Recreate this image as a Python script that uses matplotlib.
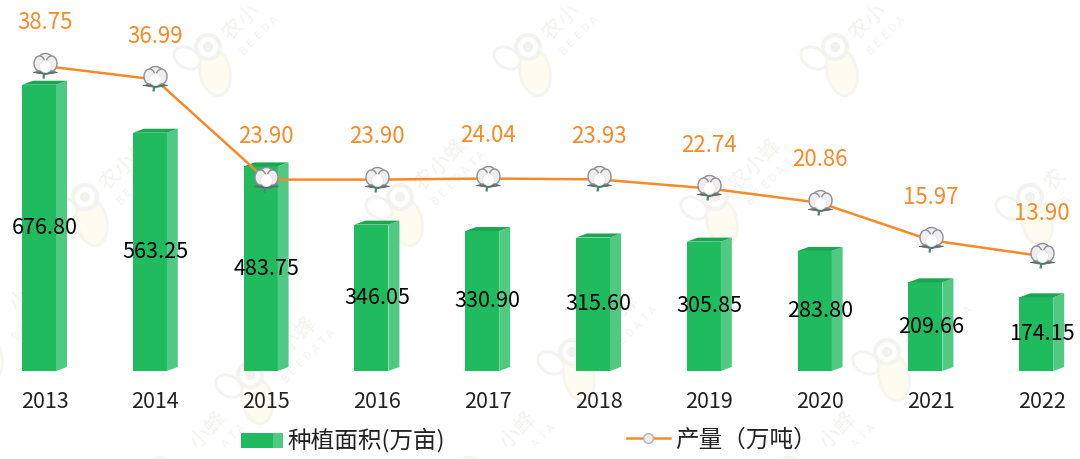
import matplotlib
matplotlib.use('Agg')
import matplotlib.pyplot as plt
import numpy as np
from matplotlib.path import Path
from matplotlib.patches import Polygon, Ellipse, Rectangle
from matplotlib.lines import Line2D
from matplotlib.transforms import IdentityTransform

plt.rcParams['font.family'] = ['Noto Sans CJK SC', 'DejaVu Sans']

years = ['2013', '2014', '2015', '2016', '2017', '2018', '2019', '2020', '2021', '2022']
area = [676.80, 563.25, 483.75, 346.05, 330.90, 315.60, 305.85, 283.80, 209.66, 174.15]
output = [38.75, 36.99, 23.90, 23.90, 24.04, 23.93, 22.74, 20.86, 15.97, 13.90]

# watermark bee eyes, in pixels of the image
wm_eyes = [(208, 47), (528, 47), (835, 47), (85, 197), (400, 197), (715, 197), (1030, 197),
           (250, 375), (572, 352), (887, 352), (-20, 332), (160, 470), (470, 470), (790, 470)]

GREEN = '#20ba5f'
SIDE = '#50c983'
TOP = '#1ba652'
ORANGE = '#f78a28'
WM = '#f3f3ef'

W, H = 1080, 459
fig = plt.figure(figsize=(W / 100, H / 100), dpi=100)
ax = fig.add_axes([0, 88 / H, 1, 371 / H])
ax.set_xlim(-44.5 / 110.8, (W - 44.5) / 110.8)
ax.set_ylim(0, 371 / 0.423)
ax2 = ax.twinx()
ax2.set_ylim(38.75 - 305 / 7.65, 38.75 + 66 / 7.65)
ax2.set_zorder(ax.get_zorder() + 1)
for a in (ax, ax2):
    a.patch.set_visible(False)
    for s in a.spines.values():
        s.set_visible(False)
ax2.set_yticks([])
ax.set_yticks([])


def wm_text(s, x0, y0, step, size):
    # one glyph at a time along the diagonal, skip what falls off the image
    for i, ch in enumerate(s):
        cx = x0 + i * step
        cy = y0 - i * step
        if 13 < cx < W - 13 and 13 < cy < H - 13:
            fig.text(cx / W, 1 - cy / H, ch, fontsize=size, color=WM, rotation=45,
                     ha='center', va='center', zorder=-5)


idt = IdentityTransform()
for ex, ey in wm_eyes:
    by = H - ey
    fig.add_artist(Ellipse((ex - 21, by - 11), 28, 20, angle=-30, transform=idt, fc='white', ec=WM, lw=2, zorder=-6))
    fig.add_artist(Ellipse((ex + 7, by - 25), 30, 48, angle=12, transform=idt, fc='#fefcf1', ec='#f7f6ec', lw=2, zorder=-6))
    fig.add_artist(Ellipse((ex, by), 24, 24, transform=idt, fc='white', ec=WM, lw=3, zorder=-5))
    fig.add_artist(Ellipse((ex, by), 10, 10, transform=idt, fc='#f1f1ee', ec='none', zorder=-5))
    wm_text('农小蜂', ex + 25, ey - 17, 15, 15)
    wm_text('BEEDATA', ex + 36, ey + 3, 7.5, 8)

x = np.arange(len(years))
bw = 34 / 110.8
dx = 11 / 110.8
dy = 4 / 0.423
fx = x - dx / 2

ax.bar(fx, area, width=bw, color=GREEN, zorder=2)
for xi, fi, v in zip(x, fx, area):
    left, right = fi - bw / 2, fi + bw / 2
    ax.add_patch(Polygon([(right, 0), (right + dx, dy), (right + dx, v + dy), (right, v)],
                         fc=SIDE, ec='none', zorder=2))
    ax.add_patch(Polygon([(left, v), (left + dx, v + dy), (right + dx, v + dy), (right, v)],
                         fc=TOP, ec='none', zorder=2))
    ax.text(xi, v / 2, f'{v:.2f}', ha='center', va='center', fontsize=15.5, color='black', zorder=6)


# cotton boll, all parts given in pixels around the point
def lobe(cx, cy, rx, ry):
    t = np.linspace(0, 2 * np.pi, 40)
    return np.c_[cx + rx * np.cos(t), cy + ry * np.sin(t)]


def put(verts, fc, ec, z, lw=1.0, codes=None):
    verts = np.asarray(verts, float)
    ms = 2 * np.abs(verts).max() * 0.72
    ax2.plot(x, output, ls='none', marker=Path(verts, codes), ms=ms, mfc=fc, mec=ec, mew=lw, zorder=z)


ax2.plot(x, output, color=ORANGE, lw=1.8, zorder=3)
put([(-12, -6), (0, -3), (12, -6), (0, -8), (-12, -6)], '#5e6f6a', '#5e6f6a', 4, 0.6)
put([(-1, -5), (-2, -12)], 'none', '#3f8a70', 4, 1.6, [Path.MOVETO, Path.LINETO])
put(lobe(0, 7, 7, 6), '#efedee', '#8f8f95', 4.1)
put(lobe(-6, 3, 5.5, 7.5), '#efedee', '#8f8f95', 4.2)
put(lobe(6, 3, 5.5, 7.5), '#efedee', '#8f8f95', 4.2)
put(lobe(0, 0, 6, 6), 'white', '#e6e6e6', 4.3, 0.6)

for xi, v in zip(x, output):
    ax2.annotate(f'{v:.2f}', (xi, v), xytext=(0, 31), textcoords='offset points',
                 ha='center', va='center', fontsize=16, color=ORANGE, zorder=7)

ax.set_xticks(x)
ax.set_xticklabels(years, fontsize=15.5, color='#222222')
ax.tick_params(axis='x', length=0, pad=14.5)


class TwoTone:
    def legend_artist(self, legend, orig, fontsize, box):
        w, h = box.width, box.height
        box.add_artist(Rectangle((box.xdescent, box.ydescent), w * 0.76, h, fc=GREEN, ec='none'))
        box.add_artist(Rectangle((box.xdescent + w * 0.76, box.ydescent), w * 0.24, h, fc=SIDE, ec='none'))
        return box


bar_handle = Rectangle((0, 0), 1, 1)
line_handle = Line2D([], [], color=ORANGE, lw=1.8, marker='o', ms=7, mfc='#ececec', mec='#b5b5b5')

fig.legend([bar_handle], ['种植面积(万亩)'], handler_map={Rectangle: TwoTone()}, loc='center left',
           bbox_to_anchor=(241 / W, 1 - 440 / H), frameon=False, fontsize=17, handlelength=1.78,
           handleheight=0.63, handletextpad=0.2, borderpad=0, borderaxespad=0, labelcolor='#222222')
fig.legend([line_handle], ['产量（万吨）'], loc='center left', bbox_to_anchor=(627 / W, 1 - 440 / H),
           frameon=False, fontsize=17, handlelength=1.82, handletextpad=0.2, borderpad=0, borderaxespad=0,
           labelcolor='#222222')

fig.savefig('out.png', dpi=100)
